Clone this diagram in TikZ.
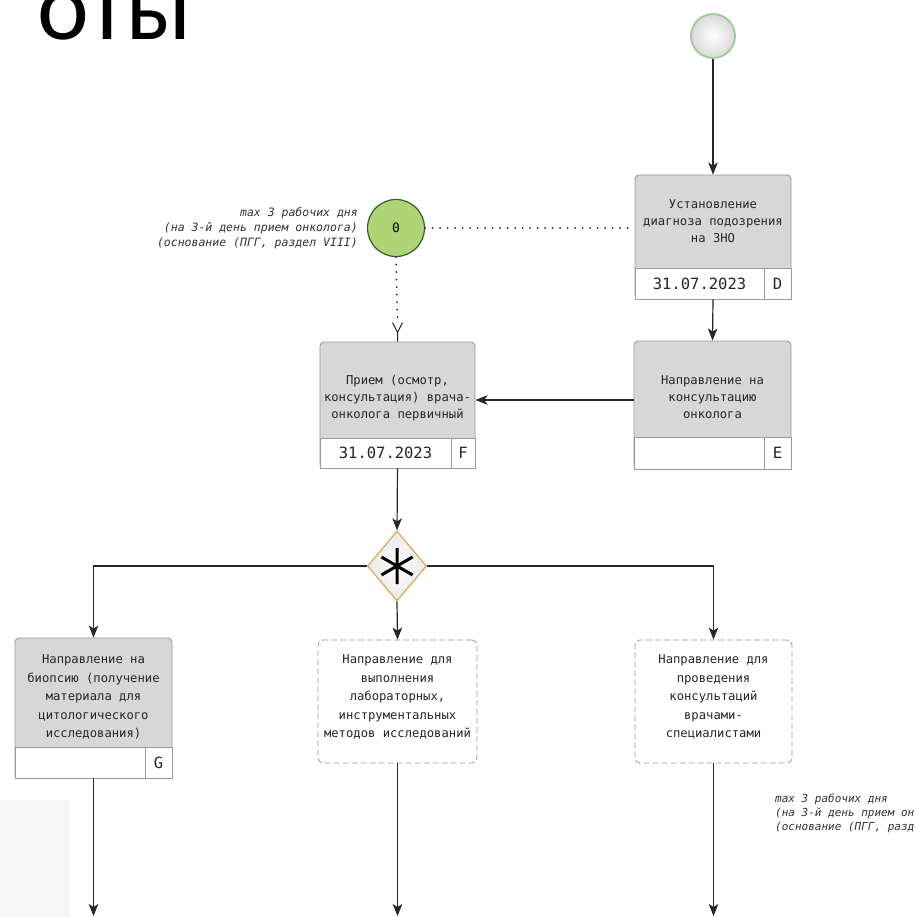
\documentclass[tikz,border=0pt]{standalone}
\usepackage{fontspec}
\setmainfont{DejaVu Sans}
\newfontfamily\monof{DejaVu Sans Mono}
\newfontfamily\titlef{Carlito}
\usetikzlibrary{shapes.geometric,arrows.meta,calc}
\definecolor{boxgray}{HTML}{D7D7D7}
\definecolor{edgegray}{HTML}{9A9A9A}
\definecolor{linegray}{HTML}{262626}
\definecolor{greenfill}{HTML}{AED575}
\definecolor{greenedge}{HTML}{3F5A2A}
\definecolor{startedge}{HTML}{9CCB94}
\definecolor{gateedge}{HTML}{DDA85C}
\tikzset{
  taskbox/.style={draw=edgegray, fill=boxgray, rounded corners=4pt, line width=0.9pt, inner sep=0pt},
  daterow/.style={draw=edgegray, fill=white, line width=0.9pt, inner sep=0pt, text=black!85, font=\monof\fontsize{15.5}{15.5}\selectfont},
  tasktext/.style={align=center, font=\monof\fontsize{12.2}{17}\selectfont, text=black!85, inner sep=0pt},
  tasktextb/.style={align=center, font=\monof\fontsize{12.2}{18.5}\selectfont, text=black!85, inner sep=0pt},
  openbox/.style={draw=edgegray, dash pattern=on 6pt off 3pt, fill=white, rounded corners=5pt, line width=0.8pt, inner sep=0pt},
  flow/.style={draw=linegray, line width=1.2pt, -{Stealth[length=12pt,width=9.5pt,inset=3pt]}},
  plainline/.style={draw=linegray, line width=1pt},
  assoc/.style={draw=linegray, line width=2pt, line cap=round, dash pattern=on 0pt off 7.5pt},
  note/.style={font=\monof\itshape\fontsize{11.5}{15}\selectfont, inner sep=0pt, text=black!80},
}
\begin{document}
\begin{tikzpicture}[x=1pt,y=-1pt]
\useasboundingbox (0,0) rectangle (914,917);
\clip (0,0) rectangle (914,917);
\fill[white] (0,0) rectangle (914,917);
\fill[gray!7] (0,800) rectangle (70,917);

\node[font=\titlef\fontsize{98}{98}\selectfont, anchor=base east, inner sep=0pt] (T) at (192,40) {оты};

% start event
\node[circle, draw=startedge, line width=1.8pt, inner sep=0pt, minimum size=44pt, inner color=white, outer color=gray!30] (S) at (713,36) {};

% D
\node[taskbox, minimum width=156pt, minimum height=124pt] (D) at (713,237) {};
\node[daterow, minimum width=129pt, minimum height=31pt] (Dd) at (699.5,283.5) {31.07.2023};
\node[daterow, minimum width=27pt, minimum height=31pt] (Dc) at (777.5,283.5) {D};
\node[tasktext] (Dt) at (713,221) {Установление\\диагноза подозрения\\на ЗНО};

% E
\node[taskbox, minimum width=157pt, minimum height=128pt] (E) at (712.5,405) {};
\node[daterow, minimum width=130pt, minimum height=32pt] (Ed) at (699,453) {};
\node[daterow, minimum width=27pt, minimum height=32pt] (Ec) at (777.5,453) {E};
\node[tasktext] (Et) at (712.5,397) {Направление на\\консультацию\\онколога};

% F
\node[taskbox, minimum width=155pt, minimum height=126pt] (F) at (397.5,405) {};
\node[daterow, minimum width=131pt, minimum height=30pt] (Fd) at (385.5,453) {31.07.2023};
\node[daterow, minimum width=24pt, minimum height=30pt] (Fc) at (463,453) {F};
\node[tasktext] (Ft) at (397.5,398) {Прием (осмотр,\\консультация) врача-\\онколога первичный};

% timer circle
\node[circle, draw=greenedge, fill=greenfill, line width=1.2pt, minimum size=57pt, inner sep=0pt, font=\monof\fontsize{13}{13}\selectfont] (O) at (396,228) {0};
\node[note, anchor=east, align=right] (N1) at (358,228) {max 3 рабочих дня\\(на 3-й день прием онколога)\\(основание (ПГГ, раздел VIII)};

% gateway
\node[diamond, draw=gateedge, line width=1.2pt, inner color=white, outer color=gray!18, minimum width=59pt, minimum height=70pt, inner sep=0pt] (X) at (397,566) {};
\draw[line width=3pt, black] ($(X)+(0,-18)$) -- ($(X)+(0,18)$)
  ($(X)+(-15.6,-9)$) -- ($(X)+(15.6,9)$)
  ($(X)+(-15.6,9)$) -- ($(X)+(15.6,-9)$);

% G
\node[taskbox, minimum width=157pt, minimum height=140pt] (G) at (93.5,708) {};
\node[daterow, minimum width=130pt, minimum height=31pt] (Gd) at (80,762.5) {};
\node[daterow, minimum width=27pt, minimum height=31pt] (Gc) at (158.5,762.5) {G};
\node[tasktextb] (Gt) at (93.5,697) {Направление на\\биопсию (получение\\материала для\\цитологического\\исследования)};

% dashed boxes
\node[openbox, minimum width=159pt, minimum height=123pt] (M) at (397.5,701.5) {};
\node[tasktextb] (Mt) at (397.5,697) {Направление для\\выполнения\\лабораторных,\\инструментальных\\методов исследований};
\node[openbox, minimum width=157pt, minimum height=123pt] (R) at (713.5,701.5) {};
\node[tasktextb] (Rt) at (713.5,697) {Направление для\\проведения\\консультаций\\врачами-\\специалистами};

\node[note, anchor=west, align=left, font=\monof\itshape\fontsize{11}{14}\selectfont] (N2) at (775,813) {max 3 рабочих дня\\(на 3-й день прием онколога)\\(основание (ПГГ, раздел VIII)};

% connectors
\draw[flow] (S) -- (D);
\draw[flow] (D.south) -- (E.north);
\draw[flow] ($(E.west)+(0,-5)$) -- ($(F.east)+(0,-5)$);
\draw[assoc] (O.east) -- (O.east -| D.west);
\draw[assoc] (O.south) -- ($(F.north)+(0,-21)$);
\draw[plainline] ($(F.north)+(-5,-19)$) -- ($(F.north)+(0,-9)$) -- ($(F.north)+(5,-19)$)
  ($(F.north)+(0,-9)$) -- (F.north);
\draw[flow] (F.south) -- (X.north);
\draw[flow] (X.west) -| (G.north);
\draw[flow] (X.east) -| (R.north);
\draw[flow] (X.south) -- (M.north);
\coordinate (Gend) at (93.5,916);
\coordinate (Mend) at (397.5,916);
\coordinate (Rend) at (713.5,916);
\draw[flow] (G.south) -- (Gend);
\draw[flow] (M.south) -- (Mend);
\draw[flow] (R.south) -- (Rend);
\end{tikzpicture}
\end{document}
